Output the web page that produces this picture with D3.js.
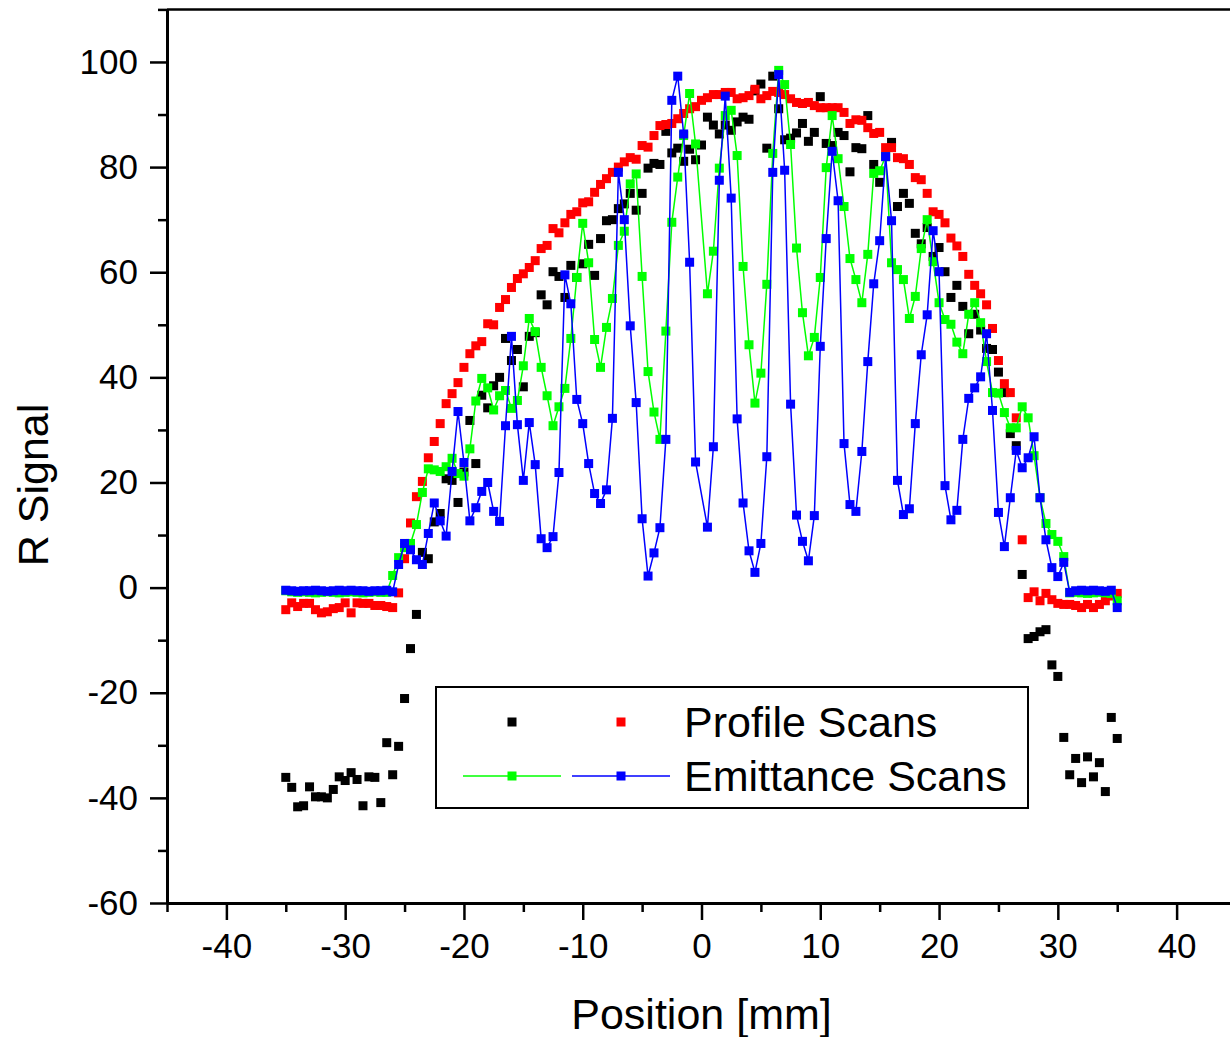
<!DOCTYPE html>
<html>
<head>
<meta charset="utf-8">
<script src="https://cdn.jsdelivr.net/npm/d3@7"></script>
<style>
  body { margin: 0; background: #fff; }
  svg { display: block; font-family: Arial, "Liberation Sans", sans-serif; }
</style>
</head>
<body>
<div id="chart"></div>
<script>
// scan positions in mm (0.5 mm steps)
var positions = [
  -35, -34.5, -34, -33.5, -33, -32.5, -32, -31.5, -31, -30.5,
  -30, -29.5, -29, -28.5, -28, -27.5, -27, -26.5, -26, -25.5,
  -25, -24.5, -24, -23.5, -23, -22.5, -22, -21.5, -21, -20.5,
  -20, -19.5, -19, -18.5, -18, -17.5, -17, -16.5, -16, -15.5,
  -15, -14.5, -14, -13.5, -13, -12.5, -12, -11.5, -11, -10.5,
  -10, -9.5, -9, -8.5, -8, -7.5, -7, -6.5, -6, -5.5,
  -5, -4.5, -4, -3.5, -3, -2.5, -2, -1.5, -1, -0.5,
  0, 0.5, 1, 1.5, 2, 2.5, 3, 3.5, 4, 4.5,
  5, 5.5, 6, 6.5, 7, 7.5, 8, 8.5, 9, 9.5,
  10, 10.5, 11, 11.5, 12, 12.5, 13, 13.5, 14, 14.5,
  15, 15.5, 16, 16.5, 17, 17.5, 18, 18.5, 19, 19.5,
  20, 20.5, 21, 21.5, 22, 22.5, 23, 23.5, 24, 24.5,
  25, 25.5, 26, 26.5, 27, 27.5, 28, 28.5, 29, 29.5,
  30, 30.5, 31, 31.5, 32, 32.5, 33, 33.5, 34, 34.5,
  35
];

// profile scans
var profileBlack = [
  -36.1, -38.0, -41.7, -41.5, -37.9, -39.8, -39.8, -40.0, -38.4, -36.0,
  -36.7, -35.2, -36.5, -41.5, -36.0, -36.1, -40.9, -29.5, -35.6, -30.2,
  -21.1, -11.6, -5.1, 6.7, 5.5, 12.5, 14.1, 20.7, 20.4, 16.2,
  22.0, 31.8, 23.6, 36.6, 34.2, 38.4, 40.0, 47.4, 43.2, 45.3,
  38.2, 47.8, 48.5, 55.7, 53.8, 60.1, 59.2, 55.2, 61.3, 59.0,
  61.6, 65.3, 59.4, 66.4, 69.8, 70.0, 72.1, 73.0, 75.0, 71.8,
  75.0, 79.8, 80.7, 80.5, 86.8, 82.7, 83.6, 81.1, 83.4, 81.4,
  84.2, 89.5, 88.0, 86.3, 88.0, 87.0, 88.6, 89.5, 89.1, 94.5,
  95.8, 83.6, 97.3, 91.1, 85.2, 85.5, 86.5, 88.3, 84.9, 86.6,
  93.4, 84.5, 84.1, 86.6, 86.0, 79.1, 83.7, 83.5, 89.8, 80.5,
  77.1, 82.0, 84.7, 72.5, 75.0, 73.1, 67.4, 65.4, 68.5, 63.0,
  64.7, 60.1, 55.2, 57.5, 53.5, 48.3, 52.0, 49.0, 45.5, 45.3,
  41.0, 37.1, 29.3, 27.0, 2.5, -9.7, -9.3, -8.4, -8.0, -14.7,
  -16.9, -28.5, -35.6, -32.5, -37.1, -32.2, -36.0, -33.3, -38.8, -24.7,
  -28.7
];

var profileRed = [
  -4.2, -2.9, -3.6, -3.0, -3.0, -4.2, -4.8, -4.6, -4.0, -3.8,
  -2.9, -4.8, -2.9, -3.0, -3.0, -3.4, -3.4, -3.6, -3.8, -1.0,
  5.5, 12.3, 17.3, 20.2, 24.7, 27.8, 31.2, 35.0, 36.9, 39.0,
  41.9, 44.5, 46.0, 46.8, 50.2, 50.0, 53.3, 54.8, 57.1, 58.8,
  59.7, 60.9, 62.2, 64.5, 65.1, 68.3, 67.5, 69.4, 71.0, 71.5,
  73.2, 73.4, 75.2, 76.7, 77.8, 79.0, 80.0, 81.0, 81.8, 81.5,
  84.1, 83.8, 86.0, 87.9, 88.1, 88.3, 89.2, 90.2, 91.1, 91.5,
  92.7, 93.2, 93.8, 93.8, 94.2, 94.2, 93.0, 93.2, 93.6, 94.8,
  93.0, 93.6, 94.4, 94.2, 93.8, 93.0, 92.3, 92.1, 92.3, 91.7,
  91.3, 91.3, 91.3, 91.3, 90.4, 88.3, 89.0, 88.9, 87.5, 86.4,
  86.6, 83.7, 83.7, 81.8, 81.6, 80.5, 78.0, 77.6, 75.0, 71.5,
  71.0, 69.4, 66.5, 65.0, 63.0, 59.6, 57.5, 55.9, 53.8, 49.3,
  43.2, 38.8, 37.1, 32.3, 9.1, -1.9, -0.8, -2.5, -1.1, -2.3,
  -3.0, -3.2, -3.2, -3.4, -3.8, -3.2, -3.8, -3.2, -2.5, -1.6,
  -1.1
];

// emittance scans (null = no reading at 0 mm)
var emittanceGreen = [
  -0.6, -0.8, -0.9, -0.8, -0.9, -1.0, -0.9, -0.8, -0.9, -1.0,
  -0.9, -0.8, -0.9, -1.0, -0.9, -0.8, -0.9, -0.9, 2.3, 5.7,
  7.6, 8.4, 12.0, 18.1, 22.6, 22.4, 22.1, 23.0, 24.6, 21.7,
  21.2, 26.4, 35.5, 39.8, 38.0, 33.8, 36.5, 37.5, 34.1, 35.6,
  42.2, 51.2, 48.7, 41.9, 36.5, 30.8, 34.4, 37.9, 47.4, 59.0,
  69.3, 61.8, 47.2, 41.9, 49.5, 55.0, 65.1, 67.8, 76.8, 78.7,
  59.2, 41.1, 33.4, 28.2, 48.8, 69.5, 78.1, 86.0, 94.0, 84.4,
  null, 55.9, 64.0, 79.8, 89.8, 90.8, 82.2, 61.1, 46.2, 35.1,
  40.8, 57.7, 82.6, 98.4, 95.7, 84.3, 64.6, 52.3, 44.1, 47.6,
  59.0, 79.9, 89.8, 81.6, 72.5, 62.6, 58.6, 54.2, 63.4, 78.8,
  79.3, 82.0, 61.8, 60.5, 58.6, 51.2, 55.4, 64.5, 70.0, 62.0,
  54.2, 51.0, 50.1, 46.7, 44.5, 52.0, 54.2, 50.4, 43.0, 37.1,
  37.0, 33.3, 30.4, 30.4, 34.4, 32.3, 25.1, 17.1, 12.2, 10.1,
  8.8, 5.9, -1.0, -0.9, -1.0, -1.1, -1.0, -0.9, -1.0, -1.1,
  -2.5
];

var emittanceBlue = [
  -0.5, -0.6, -0.7, -0.6, -0.6, -0.5, -0.6, -0.7, -0.6, -0.5,
  -0.6, -0.5, -0.6, -0.6, -0.7, -0.6, -0.6, -0.5, -0.8, 4.4,
  8.4, 7.2, 5.3, 4.4, 10.3, 16.1, 12.7, 9.8, 22.1, 33.5,
  23.8, 12.7, 15.2, 18.3, 20.0, 14.5, 12.6, 30.8, 47.8, 31.0,
  20.4, 31.4, 23.4, 9.3, 7.6, 9.7, 21.9, 59.5, 54.0, 35.8,
  31.2, 23.6, 17.9, 16.0, 18.6, 32.2, 79.0, 70.0, 49.8, 35.2,
  13.1, 2.2, 6.6, 11.4, 28.2, 92.7, 97.3, 86.3, 61.9, 23.9,
  null, 11.5, 26.8, 77.5, 93.5, 74.1, 32.1, 16.1, 7.0, 2.9,
  8.4, 24.9, 79.0, 97.6, 79.4, 34.9, 13.8, 8.8, 5.1, 13.7,
  45.9, 66.4, 83.0, 73.6, 27.4, 15.8, 14.5, 25.9, 43.0, 57.8,
  66.0, 82.0, 69.8, 20.4, 13.9, 15.0, 31.2, 44.3, 51.9, 67.9,
  60.1, 19.4, 12.9, 14.7, 28.2, 36.0, 38.0, 40.1, 48.3, 33.7,
  14.3, 7.8, 17.1, 26.1, 22.8, 24.7, 28.7, 17.1, 9.1, 3.8,
  2.1, 4.8, -0.9, -0.6, -0.5, -0.6, -0.5, -0.6, -0.7, -0.5,
  -3.8
];

var xTicks = [-40, -30, -20, -10, 0, 10, 20, 30, 40];
var xMinorTicks = [-45, -35, -25, -15, -5, 5, 15, 25, 35, 45];
var yTicks = [-60, -40, -20, 0, 20, 40, 60, 80, 100];
var yMinorTicks = [-50, -30, -10, 10, 30, 50, 70, 90, 110];

var legendLabels = ["Profile Scans", "Emittance Scans"];

// set the dimensions of the graph
var width = 1230,
    height = 1037;

var svg = d3.select("#chart")
  .append("svg")
    .attr("width", width)
    .attr("height", height);

// scales
var x = d3.scaleLinear()
  .domain([-45, 45])
  .range([167, 1236]);

var y = d3.scaleLinear()
  .domain([-60, 110])
  .range([903, 9.4]);

// build point lists from the arrays
function toPoints(values) {
  return positions.map(function(p, i) { return {x: p, v: values[i]}; })
    .filter(function(d) { return d.v !== null; });
}

var black = toPoints(profileBlack),
    red = toPoints(profileRed),
    green = toPoints(emittanceGreen),
    blue = toPoints(emittanceBlue);

var sq = 9;

function drawSquares(data, color) {
  svg.append("g")
    .selectAll("rect")
    .data(data)
    .enter()
    .append("rect")
      .attr("x", function(d) { return x(d.x) - sq / 2; })
      .attr("y", function(d) { return y(d.v) - sq / 2; })
      .attr("width", sq)
      .attr("height", sq)
      .style("fill", color);
}

var line = d3.line()
  .x(function(d) { return x(d.x); })
  .y(function(d) { return y(d.v); });

function drawLine(data, color) {
  svg.append("path")
    .datum(data)
    .attr("d", line)
    .attr("fill", "none")
    .attr("stroke", color)
    .attr("stroke-width", 1.5);
}

drawSquares(black, "#000000");
drawSquares(red, "#ff0000");
drawLine(green, "#00ff00");
drawSquares(green, "#00ff00");
drawLine(blue, "#0000ff");
drawSquares(blue, "#0000ff");

// plain hyphen for negative numbers, like the original plot
var plainFormat = function(d) { return String(d); };

// X axis (major + minor ticks)
svg.append("g")
  .attr("transform", "translate(0," + y(-60) + ")")
  .call(d3.axisBottom(x).tickValues(xTicks).tickSize(17).tickSizeOuter(0).tickPadding(13).tickFormat(plainFormat));
svg.append("g")
  .attr("transform", "translate(0," + y(-60) + ")")
  .call(d3.axisBottom(x).tickValues(xMinorTicks).tickSize(9).tickSizeOuter(0).tickFormat(""));

// Y axis (major + minor ticks)
svg.append("g")
  .attr("transform", "translate(" + x(-45) + ",0)")
  .call(d3.axisLeft(y).tickValues(yTicks).tickSize(17).tickSizeOuter(0).tickPadding(12).tickFormat(plainFormat));
svg.append("g")
  .attr("transform", "translate(" + x(-45) + ",0)")
  .call(d3.axisLeft(y).tickValues(yMinorTicks).tickSize(9).tickSizeOuter(0).tickFormat(""));

svg.selectAll(".tick text")
  .style("font-size", "35px")
  .style("font-family", "Arial, 'Liberation Sans', sans-serif")
  .style("fill", "#000");

svg.selectAll(".domain")
  .attr("stroke", "#000")
  .attr("stroke-width", 3);
svg.selectAll(".tick line")
  .attr("stroke", "#000")
  .attr("stroke-width", 2.5);

// top frame line
svg.append("line")
  .attr("x1", x(-45))
  .attr("x2", x(45))
  .attr("y1", y(110))
  .attr("y2", y(110))
  .attr("stroke", "#000")
  .attr("stroke-width", 2.5);

// axis titles
svg.append("text")
  .attr("x", x(0))
  .attr("y", 1029)
  .attr("text-anchor", "middle")
  .style("font-size", "43px")
  .text("Position [mm]");

svg.append("text")
  .attr("transform", "translate(48,485) rotate(-90)")
  .attr("text-anchor", "middle")
  .style("font-size", "43px")
  .text("R Signal");

// legend
var legend = svg.append("g");
legend.append("rect")
  .attr("x", 436)
  .attr("y", 687)
  .attr("width", 592)
  .attr("height", 121)
  .attr("fill", "#fff")
  .attr("stroke", "#000")
  .attr("stroke-width", 2);

var legendRows = [
  {label: legendLabels[0], y: 722, items: [{c: "#000000", cx: 512, line: false}, {c: "#ff0000", cx: 621, line: false}]},
  {label: legendLabels[1], y: 776, items: [{c: "#00ff00", cx: 512, line: true}, {c: "#0000ff", cx: 621, line: true}]}
];

legendRows.forEach(function(row) {
  row.items.forEach(function(it) {
    if (it.line) {
      legend.append("line")
        .attr("x1", it.cx - 49)
        .attr("x2", it.cx + 49)
        .attr("y1", row.y)
        .attr("y2", row.y)
        .attr("stroke", it.c)
        .attr("stroke-width", 1.5);
    }
    legend.append("rect")
      .attr("x", it.cx - sq / 2)
      .attr("y", row.y - sq / 2)
      .attr("width", sq)
      .attr("height", sq)
      .style("fill", it.c);
  });
  legend.append("text")
    .attr("x", 684)
    .attr("y", row.y + 15)
    .style("font-size", "43px")
    .text(row.label);
});
</script>
</body>
</html>
